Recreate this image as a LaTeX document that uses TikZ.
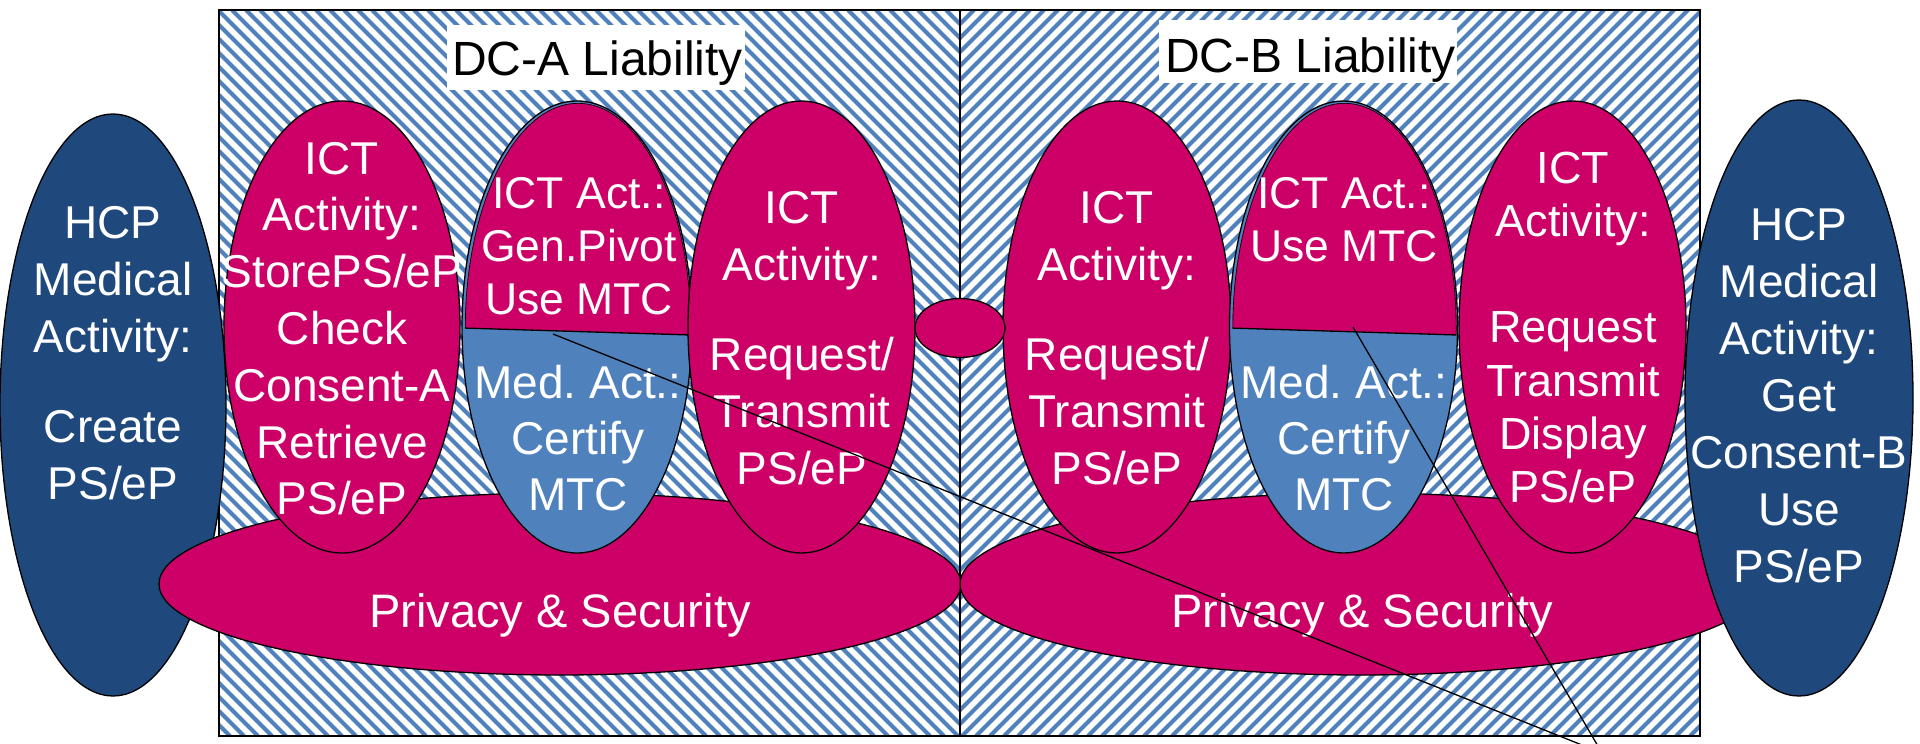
\documentclass[tikz,border=0pt]{standalone}
\usepackage{fontspec}
\setmainfont{Liberation Sans}
\definecolor{pinkc}{RGB}{204,0,102}
\definecolor{hcpblue}{RGB}{31,73,125}
\definecolor{medblue}{RGB}{79,129,189}
\definecolor{hatchblue}{RGB}{79,129,189}
\newcommand{\mlines}[1]{\begin{tabular}[t]{@{}c@{}}#1\end{tabular}}
\frenchspacing
\begin{document}
\begin{tikzpicture}[x=1pt,y=-1pt,
  outl/.style={draw=black, line width=1.3pt},
  txt/.style={text=white, anchor=base, inner sep=0pt},
  fbig/.style={font=\fontsize{46}{57}\selectfont},
  fict/.style={font=\fontsize{46}{56.8}\selectfont},
  fmidtop/.style={font=\fontsize{44.5}{53}\selectfont},
  fmidbot/.style={font=\fontsize{46}{56}\selectfont},
  fright/.style={font=\fontsize{45}{53.3}\selectfont},
  fpriv/.style={font=\fontsize{47}{57}\selectfont},
  ftitle/.style={font=\fontsize{48}{58}\selectfont, text=black, anchor=base west, inner sep=0pt},
  stripe/.style={draw=hatchblue, line width=4.2pt},
  conn/.style={draw=black, line width=1.3pt}]
\useasboundingbox (0,0) rectangle (1920,744);
\fill[white] (0,0) rectangle (1920,744);

% hatched panels
\begin{scope}
  \clip (219,10) rectangle (960,736);
  \foreach \i in {-510,-496,...,970} \draw[stripe] (\i,10) -- ++(726,726);
\end{scope}
\begin{scope}
  \clip (960,10) rectangle (1700,736);
  \foreach \i in {960,974,...,2440} \draw[stripe] (\i,10) -- ++(-726,726);
\end{scope}
\draw[line width=2pt] (219,10) rectangle (1700,736);
\draw[line width=1.3pt] (960,10) -- (960,736);

% titles
\fill[white] (447,25) rectangle (745,90);
\node[ftitle] (titleA) at (452,75) {DC-A Liability};
\fill[white] (1159,20) rectangle (1457,83);
\node[ftitle] (titleB) at (1165,72) {DC-B Liability};

% left HCP
\path[fill=hcpblue, outl] (113,405) ellipse [x radius=113pt, y radius=291pt];

% privacy ellipses
\path[fill=pinkc, outl] (560,584) ellipse [x radius=401pt, y radius=91pt];
\path[fill=pinkc, outl] (1361,584) ellipse [x radius=401pt, y radius=91pt];

% ICT ellipses side A
\path[fill=pinkc, outl] (342,327) ellipse [x radius=118pt, y radius=226pt];
\path[fill=medblue, outl] (577,327) ellipse [x radius=115pt, y radius=226pt];
\begin{scope}
  \clip (578,328) ellipse [x radius=113pt, y radius=225pt];
  \fill[pinkc] (440,80) -- (720,80) -- (720,335.9) -- (440,327.3) -- cycle;
  \draw[line width=1.3pt] (440,327.3) -- (720,335.9);
  \clip (440,80) -- (720,80) -- (720,335.9) -- (440,327.3) -- cycle;
  \draw[line width=1.3pt] (578,328) ellipse [x radius=113pt, y radius=225pt];
\end{scope}
\path[fill=pinkc, outl] (801.5,327) ellipse [x radius=113.5pt, y radius=226pt];

% ICT ellipses side B
\path[fill=pinkc, outl] (1117,327) ellipse [x radius=114pt, y radius=226pt];
\path[fill=medblue, outl] (1343.5,327) ellipse [x radius=114pt, y radius=226pt];
\begin{scope}
  \clip (1344.5,328) ellipse [x radius=112pt, y radius=225pt];
  \fill[pinkc] (1200,80) -- (1480,80) -- (1480,335.7) -- (1200,327.1) -- cycle;
  \draw[line width=1.3pt] (1200,327.1) -- (1480,335.7);
  \clip (1200,80) -- (1480,80) -- (1480,335.7) -- (1200,327.1) -- cycle;
  \draw[line width=1.3pt] (1344.5,328) ellipse [x radius=112pt, y radius=225pt];
\end{scope}
\path[fill=pinkc, outl] (1572.5,327) ellipse [x radius=113.5pt, y radius=226pt];

% right HCP
\path[fill=hcpblue, outl] (1799,398) ellipse [x radius=114pt, y radius=298pt];

% small centre ellipse
\path[fill=pinkc, outl] (960,328) ellipse [x radius=45pt, y radius=29.5pt];

% texts
\node[txt, fbig] (hcpA) at (113,238) {\mlines{HCP\\Medical\\Activity:\\[33pt]Create\\PS/eP}};
\node[txt, fict] (ictA1) at (342,174) {\mlines{ICT\\Activity:\\StorePS/eP\\Check\\Consent-A\\Retrieve\\PS/eP}};
\node[txt, fmidtop] (ictA2) at (579,208) {\mlines{ICT Act.:\\Gen.Pivot\\Use MTC}};
\node[txt, fmidbot] (medA) at (578,398) {\mlines{Med. Act.:\\Certify\\MTC}};
\node[txt, fbig] (ictA3) at (802,223) {\mlines{ICT\\Activity:\\[33pt]Request/\\Transmit\\PS/eP}};
\node[txt, fbig] (ictB1) at (1117,223) {\mlines{ICT\\Activity:\\[33pt]Request/\\Transmit\\PS/eP}};
\node[txt, fmidtop] (ictB2) at (1344,208) {\mlines{ICT Act.:\\Use MTC}};
\node[txt, fmidbot] (medB) at (1344,398) {\mlines{Med. Act.:\\Certify\\MTC}};
\node[txt, fright] (ictB3) at (1573,183) {\mlines{ICT\\Activity:\\ \\Request\\Transmit\\Display\\PS/eP}};
\node[txt, fbig] (hcpB) at (1799,240) {\mlines{HCP\\Medical\\Activity:\\Get\\Consent-B\\Use\\PS/eP}};
\node[txt, fpriv] (privA) at (560,627) {Privacy \& Security};
\node[txt, fpriv] (privB) at (1362,627) {Privacy \& Security};

% connectors
\coordinate (pA) at (553,334);
\coordinate (pB) at (1353,327);
\coordinate (conv) at (1602,753);
\draw[conn] (pA) -- (conv);
\draw[conn] (pB) -- (conv);
\end{tikzpicture}
\end{document}
